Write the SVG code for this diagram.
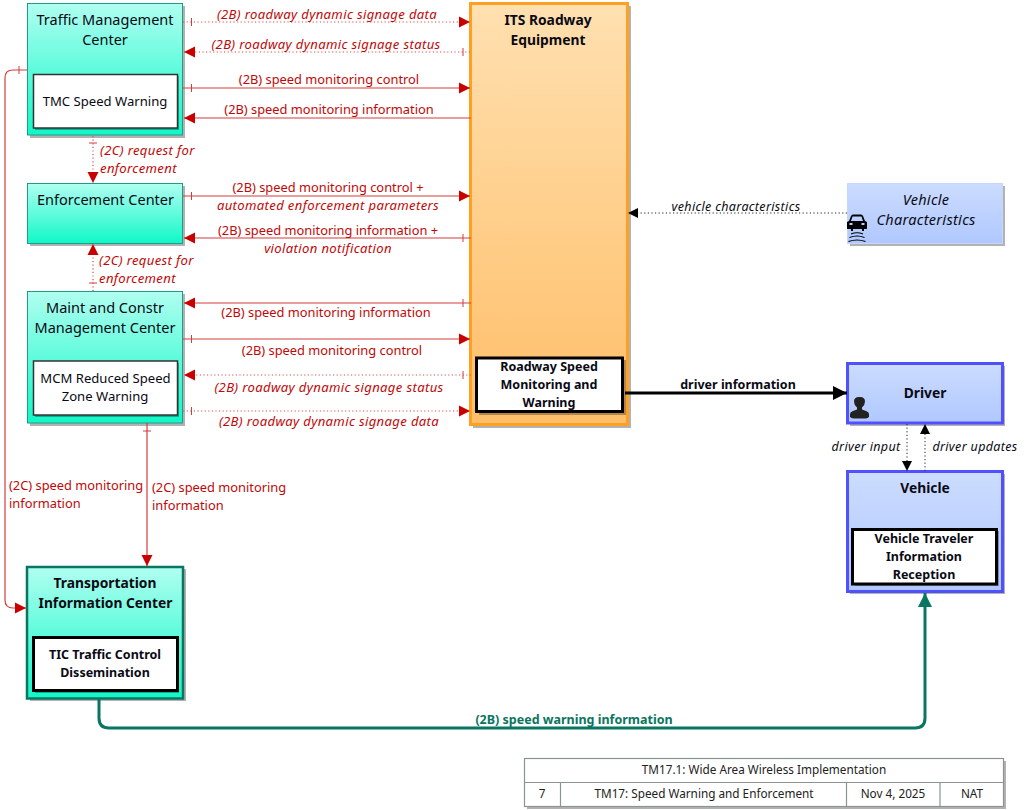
<svg xmlns="http://www.w3.org/2000/svg" width="1027" height="810" viewBox="0 0 1027 810">
<style>
text{font-family:"Noto Sans","Open Sans","Liberation Sans",sans-serif;text-anchor:middle}
.t{font-size:14.5px;fill:#0a0a14}
.b{font-weight:700}
.tb{font-size:13.8px;font-weight:700;fill:#0a0a14}
.s{font-size:13.1px;fill:#0a0a14}
.sb{font-size:12.5px;font-weight:700;fill:#0a0a14}
.l{font-size:12.85px;fill:#c00808}
.i{font-style:italic;font-size:13.1px;letter-spacing:.35px}
.ti{font-size:14.5px;font-style:italic;letter-spacing:.3px;fill:#0a0a14}
.k{font-size:12.5px;fill:#0a0a14}
.m{font-size:11.75px;fill:#222}
.g{fill:#000;opacity:.3}
.in{fill:#fff;stroke:#333;stroke-width:1.5}
.inb{fill:#fff;stroke:#000;stroke-width:3}
.r{fill:none;stroke:#d43c3c;stroke-width:1.2}
.d{stroke-dasharray:1.2 2.4;stroke:#d85050}
.tk{stroke:#d43c3c;stroke-width:1}
.f{fill:none;stroke:#8a9490;stroke-width:1.2}
</style>
<defs>
<linearGradient id="tl" x1="0" y1="0" x2="0" y2="1"><stop offset="0" stop-color="#b0fff0"/><stop offset="1" stop-color="#10f8c8"/></linearGradient>
<linearGradient id="or" x1="0" y1="0" x2="0" y2="1"><stop offset="0" stop-color="#ffe0b0"/><stop offset="1" stop-color="#ffbe68"/></linearGradient>
<linearGradient id="bl" x1="0" y1="0" x2="0" y2="1"><stop offset="0" stop-color="#ccdcff"/><stop offset="1" stop-color="#b0c8ff"/></linearGradient>
<marker id="ar" markerUnits="userSpaceOnUse" markerWidth="12" markerHeight="12" refX="11" refY="6" orient="auto"><path d="M0 0.5L11 6L0 11.5z" fill="#c80000"/></marker>
<marker id="ak" markerUnits="userSpaceOnUse" markerWidth="12" markerHeight="12" refX="10" refY="6" orient="auto"><path d="M0 1L10 6L0 11z" fill="#000"/></marker>
<marker id="akb" markerUnits="userSpaceOnUse" markerWidth="14" markerHeight="16" refX="14" refY="8" orient="auto"><path d="M0 1L14 8L0 15z" fill="#000"/></marker>
<marker id="agr" markerUnits="userSpaceOnUse" markerWidth="14" markerHeight="16" refX="14" refY="8" orient="auto"><path d="M0 1L14 8L0 15z" fill="#0a7560"/></marker>
</defs>

<g id="node-its">
<rect class="g" x="473" y="6" width="158" height="422"/>
<rect x="470.500" y="3.500" width="157" height="421" fill="url(#or)" stroke="#ffa022" stroke-width="3"/>
<text class="tb" x="548" y="25">ITS Roadway</text><text class="tb" x="548" y="45">Equipment</text>
<rect class="g" x="479" y="360" width="147" height="55"/>
<rect class="inb" x="476.500" y="358" width="146" height="53.500"/>
<text class="sb" x="549" y="371">Roadway Speed</text><text class="sb" x="549" y="389">Monitoring and</text><text class="sb" x="549" y="407">Warning</text>
</g>

<g id="node-tmc">
<rect class="g" x="30" y="6" width="155" height="132"/>
<rect x="27.500" y="3.500" width="155" height="131.500" fill="url(#tl)" stroke="#1f9c85"/>
<text class="t" x="105" y="25">Traffic Management</text><text class="t" x="105" y="45">Center</text>
<rect class="g" x="35" y="76" width="144" height="54"/>
<rect class="in" x="33.500" y="74.500" width="144" height="53.500"/>
<text class="s" x="105" y="106">TMC Speed Warning</text>
</g>

<g id="node-enf">
<rect class="g" x="30" y="186" width="155" height="60"/>
<rect x="27.500" y="183.500" width="155" height="60" fill="url(#tl)" stroke="#1f9c85"/>
<text class="t" x="105.500" y="205">Enforcement Center</text>
</g>

<g id="node-mcm">
<rect class="g" x="30" y="294" width="155" height="132"/>
<rect x="27.500" y="291.500" width="155" height="131.500" fill="url(#tl)" stroke="#1f9c85"/>
<text class="t" x="105" y="313">Maint and Constr</text><text class="t" x="105" y="333">Management Center</text>
<rect class="g" x="35" y="363" width="144" height="54"/>
<rect class="in" x="33.500" y="361" width="144" height="54"/>
<text class="s" x="105.500" y="383">MCM Reduced Speed</text><text class="s" x="105" y="401">Zone Warning</text>
</g>

<g id="node-tic">
<rect class="g" x="30" y="569" width="156" height="132"/>
<rect x="27" y="567" width="156" height="131.500" fill="url(#tl)" stroke="#0a7560" stroke-width="2.500"/>
<text class="tb" x="105" y="588">Transportation</text><text class="tb" x="105.500" y="608">Information Center</text>
<rect class="g" x="35" y="639" width="144" height="54"/>
<rect class="inb" x="33.500" y="637.500" width="144" height="53"/>
<text class="sb" x="105" y="659">TIC Traffic Control</text><text class="sb" x="105" y="677">Dissemination</text>
</g>

<g id="node-vc">
<rect class="g" x="850" y="186" width="155" height="60"/>
<rect x="847.500" y="183.500" width="155" height="60" fill="url(#bl)" stroke="#c4d6ff"/>
<text class="ti" x="926" y="205">Vehicle</text><text class="ti" x="926" y="225">Characteristics</text>
<path d="M847 229v-7l2-1 2-5q.5-1.500 2-1.500h8q1.500 0 2 1.500l2 5 2 1v7h-3v2h-2v-2h-9v2h-2v-2zM851 221h12l-1.500-4.500h-9zM849.500 223v2h3v-2zM861.500 223v2h3v-2z" fill="#000" fill-rule="evenodd"/>
<path d="M851 234q6-2.500 12 0M849.500 237.500q7.500-3 15 0M848.500 241.500q8.500-3 17 0" fill="none" stroke="#000" stroke-width="1.200"/>
</g>

<g id="node-driver">
<rect class="g" x="850" y="366" width="155" height="60"/>
<rect x="847.500" y="363.500" width="155" height="59.500" fill="url(#bl)" stroke="#5050ff" stroke-width="3"/>
<text class="tb" x="925" y="398">Driver</text>
<path d="M850 417v-3q0-2 3-3l4-1.500v-2q-3-2.500-3-6q0-4.500 5-4.500h1q5 0 5 4.500q0 3.500-3 6v2l4 1.500q3 1 3 3v3q-2 1.500-4 1.500h-11q-2 0-4-1.500z" fill="#222"/>
</g>

<g id="node-vehicle">
<rect class="g" x="850" y="474" width="155" height="120"/>
<rect x="847.500" y="471.500" width="155" height="120" fill="url(#bl)" stroke="#5050ff" stroke-width="3"/>
<text class="tb" x="925" y="493">Vehicle</text>
<rect class="g" x="855" y="531" width="144" height="55"/>
<rect class="inb" x="852.500" y="529.500" width="144" height="54.500"/>
<text class="sb" x="924" y="543">Vehicle Traveler</text><text class="sb" x="924" y="561">Information</text><text class="sb" x="924" y="579">Reception</text>
</g>

<g id="connectors">
<path class="r d" d="M183 22H470" marker-end="url(#ar)"/><path class="tk" d="M191.500 18v8"/>
<path class="r d" d="M470 52H184" marker-end="url(#ar)"/><path class="tk" d="M463 48v8"/>
<path class="r" d="M183 88H470" marker-end="url(#ar)"/><path class="tk" d="M191.500 84v8"/>
<path class="r" d="M471 118H184" marker-end="url(#ar)"/>
<path class="r" d="M183 196H470" marker-end="url(#ar)"/><path class="tk" d="M191.500 192v8"/>
<path class="r" d="M471 238H184" marker-end="url(#ar)"/><path class="tk" d="M463 234v8"/>
<path class="r" d="M471 303H184" marker-end="url(#ar)"/><path class="tk" d="M463 299v8"/>
<path class="r" d="M183 339H470" marker-end="url(#ar)"/><path class="tk" d="M191.500 335v8"/>
<path class="r d" d="M471 375H184" marker-end="url(#ar)"/><path class="tk" d="M463 371v8"/>
<path class="r d" d="M183 411H470" marker-end="url(#ar)"/><path class="tk" d="M191.500 407v8"/>
<path class="r d" d="M93 136V183" marker-end="url(#ar)"/><path class="tk" d="M89 143h8"/>
<path class="r d" d="M93 291V244" marker-end="url(#ar)"/><path class="tk" d="M89 283h8"/>
<path class="r" d="M147 423V566" marker-end="url(#ar)"/><path class="tk" d="M143 431h8"/>
<path class="r" d="M27 70H13Q5 70 5 78V600Q5 608 13 608H26" marker-end="url(#ar)"/><path class="tk" d="M19 66v8"/>
<path d="M99 699V718Q99 728 109 728H915Q925 728 925 718V593" fill="none" stroke="#0a7560" stroke-width="3" marker-end="url(#agr)"/>
<path d="M625 393H847" fill="none" stroke="#000" stroke-width="3" marker-end="url(#akb)"/>
<path d="M847 213H628" fill="none" stroke="#222" stroke-width="1" stroke-dasharray="1.200 2.400" marker-end="url(#ak)"/>
<path d="M907 424V471" fill="none" stroke="#222" stroke-width="1" stroke-dasharray="1.200 2.400" marker-end="url(#ak)"/>
<path d="M925 471V424" fill="none" stroke="#222" stroke-width="1" stroke-dasharray="1.200 2.400" marker-end="url(#ak)"/>
</g>

<g id="labels">
<text class="l i" x="327" y="19">(2B) roadway dynamic signage data</text>
<text class="l i" x="326" y="49">(2B) roadway dynamic signage status</text>
<text class="l" x="329" y="84">(2B) speed monitoring control</text>
<text class="l" x="329" y="114">(2B) speed monitoring information</text>
<text class="l" x="328" y="192">(2B) speed monitoring control +</text>
<text class="l i" x="328" y="210">automated enforcement parameters</text>
<text class="l" x="328" y="235">(2B) speed monitoring information +</text>
<text class="l i" x="328" y="253">violation notification</text>
<text class="l" x="326" y="317">(2B) speed monitoring information</text>
<text class="l" x="332" y="355">(2B) speed monitoring control</text>
<text class="l i" x="329" y="392">(2B) roadway dynamic signage status</text>
<text class="l i" x="329" y="426">(2B) roadway dynamic signage data</text>
<text class="l i" x="100" y="155" style="text-anchor:start">(2C) request for</text>
<text class="l i" x="100" y="173" style="text-anchor:start">enforcement</text>
<text class="l i" x="99" y="265" style="text-anchor:start">(2C) request for</text>
<text class="l i" x="99" y="283" style="text-anchor:start">enforcement</text>
<text class="l" x="9" y="490" style="text-anchor:start">(2C) speed monitoring</text>
<text class="l" x="9" y="508" style="text-anchor:start">information</text>
<text class="l" x="152" y="492" style="text-anchor:start">(2C) speed monitoring</text>
<text class="l" x="152" y="510" style="text-anchor:start">information</text>
<text class="k i" x="736" y="211">vehicle characteristics</text>
<text class="k b" x="738" y="389">driver information</text>
<text class="k i" x="866" y="451">driver input</text>
<text class="k i" x="975" y="451">driver updates</text>
<text class="k b" x="574" y="724" style="fill:#0a7560">(2B) speed warning information</text>
</g>

<g id="title-block">
<rect x="527" y="761" width="479" height="48" class="g"/>
<rect x="524.500" y="758.500" width="479" height="48" fill="#fff" stroke="#8a9490" stroke-width="1.200"/>
<path class="f" d="M524.500 782.500H1003.500M560.500 782.500V806.500M846.500 782.500V806.500M940 782.500V806.500"/>
<text class="m" x="764" y="774">TM17.1: Wide Area Wireless Implementation</text>
<text class="m" x="542" y="798">7</text>
<text class="m" x="704" y="798">TM17: Speed Warning and Enforcement</text>
<text class="m" x="893" y="798">Nov 4, 2025</text>
<text class="m" x="972" y="798">NAT</text>
</g>
</svg>
